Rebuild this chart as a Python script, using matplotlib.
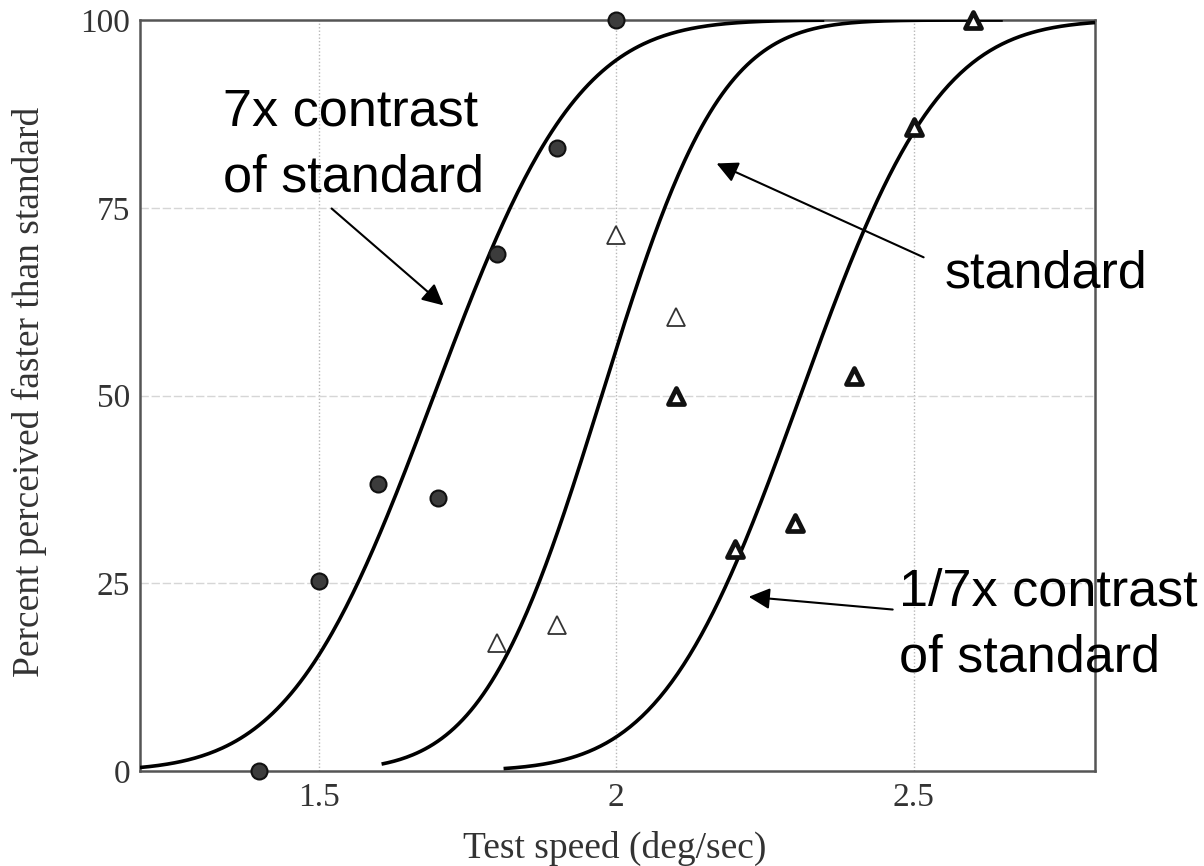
import math
import numpy as np
import matplotlib
matplotlib.use('Agg')
import matplotlib.pyplot as plt
from matplotlib.markers import MarkerStyle

# 高对比度 (7x) 数据点
high_x = [1.4, 1.5, 1.6, 1.7, 1.8, 1.9, 2.0]
high_y = [0, 25.3, 38.2, 36.4, 68.9, 83.0, 100]

# 标准对比度 数据点
std_x = [1.8, 1.9, 2.0, 2.1]
std_y = [17.0, 19.4, 71.4, 60.5]

# 低对比度 (1/7x) 数据点
low_x = [2.1, 2.2, 2.3, 2.4, 2.5, 2.6]
low_y = [50.0, 29.5, 33.0, 52.6, 85.8, 100]

# 拟合曲线参数 (累积正态): 均值, 标准差, 起点, 终点
fit_mu = [1.694, 1.976, 2.310]
fit_sigma = [0.190, 0.157, 0.183]
fit_start = [1.20, 1.606, 1.811]
fit_end = [2.35, 2.65, 2.805]

x_ticks = [1.5, 2, 2.5]
x_ticklabels = ['1.5', '2', '2.5']
y_ticks = [0, 25, 50, 75, 100]
y_ticklabels = ['0', '25', '50', '75', '100']

serif = ['Liberation Serif', 'DejaVu Serif']
sans = ['Liberation Sans', 'DejaVu Sans']


def norm_cdf(x, mu, sigma):
    return np.array([0.5 * (1 + math.erf((v - mu) / (sigma * math.sqrt(2)))) for v in x]) * 100


fig = plt.figure(figsize=(12.04, 8.66), dpi=100)
ax = fig.add_axes([140 / 1204, 1 - 771 / 866, 955 / 1204, 751 / 866])
ax.set_xlim(1.2, 2.805)
ax.set_ylim(0, 100)

# 网格
for xv in x_ticks:
    ax.axvline(xv, color='#b8b8b8', lw=1.0, ls=(0, (1, 1.5)), zorder=0)
for yv in y_ticks[1:-1]:
    ax.axhline(yv, color='#d6d6d6', lw=1.0, ls=(0, (6, 2)), zorder=0)

# 拟合曲线
for mu, sg, x0, x1 in zip(fit_mu, fit_sigma, fit_start, fit_end):
    xs = np.linspace(x0, x1, 300)
    ax.plot(xs, norm_cdf(xs, mu, sg), color='black', lw=2.6, solid_capstyle='butt', zorder=3)

# 数据点
ax.plot(high_x, high_y, 'o', ms=11.5, mfc='#3c3c3c', mec='#111111', mew=1.5,
        clip_on=False, zorder=5)
ax.plot(std_x, std_y, '^', ms=13, mfc='white', mec='#333333', mew=1.3,
        clip_on=False, zorder=5)
ax.plot(low_x, low_y, ls='none', marker=MarkerStyle('^', joinstyle='round'), ms=12,
        mfc='white', mec='#111111', mew=3.4, clip_on=False, zorder=5)

ax.set_xticks(x_ticks)
ax.set_xticklabels(x_ticklabels)
ax.set_yticks(y_ticks)
ax.set_yticklabels(y_ticklabels)
ax.tick_params(length=0, labelsize=24, colors='#333333')
ax.tick_params(axis='x', pad=8)
ax.tick_params(axis='y', pad=7)
for lab in ax.get_xticklabels() + ax.get_yticklabels():
    lab.set_family(serif)

for sp in ax.spines.values():
    sp.set_color('#555555')
    sp.set_linewidth(1.8)

ax.set_xlabel('Test speed (deg/sec)', family=serif, fontsize=27, color='#333333')
ax.set_ylabel('Percent perceived faster than standard', family=serif, fontsize=27,
              color='#333333')
ax.xaxis.set_label_coords(0.497, -0.080)
ax.yaxis.set_label_coords(-0.097, 0.505)

# 标注
arrow = dict(arrowstyle='-|>', color='black', lw=1.5, mutation_scale=32,
             shrinkA=0, shrinkB=0)
ax.text(1.340, 77.1, '7x contrast\nof standard', family=sans, fontsize=37.5,
        ha='left', va='baseline', linespacing=1.45, zorder=6)
ax.annotate('', xy=(1.710, 62.0), xytext=(1.522, 74.9), arrowprops=arrow)

ax.text(2.552, 64.4, 'standard', family=sans, fontsize=37.5, ha='left', va='baseline',
        zorder=6)
ax.annotate('', xy=(2.169, 80.9), xytext=(2.517, 68.4), arrowprops=arrow)

ax.text(2.475, 13.3, '1/7x contrast\nof standard', family=sans, fontsize=37.5,
        ha='left', va='baseline', linespacing=1.45, zorder=6, clip_on=False)
ax.annotate('', xy=(2.223, 23.2), xytext=(2.465, 21.5), arrowprops=arrow)

fig.savefig('out.png', dpi=100, facecolor='white')
